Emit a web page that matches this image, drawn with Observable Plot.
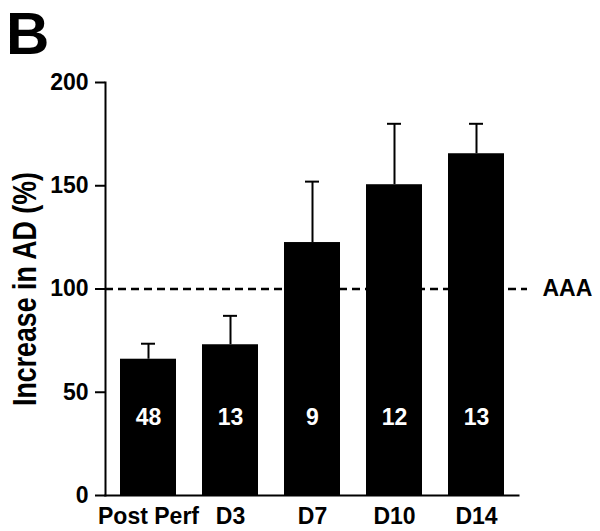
<!DOCTYPE html>
<html>
<head>
<meta charset="utf-8">
<script src="https://cdn.jsdelivr.net/npm/d3@7"></script>
<script src="https://cdn.jsdelivr.net/npm/@observablehq/plot@0.6"></script>
<style>
  html, body { margin: 0; padding: 0; background: #fff; }
  #panel { font-family: "Liberation Sans", Arial, sans-serif; font-weight: bold; font-size: 60px; line-height: 68px; height: 60px; padding-left: 6px; color: #000; overflow: visible; position: relative; z-index: 1; }
  #chart svg { display: block; }
</style>
</head>
<body>
<div id="panel"></div>
<div id="chart"></div>
<script>
const panelLabel = "B";
const categories = ["Post Perf", "D3", "D7", "D10", "D14"];
const means = [66, 73, 122.5, 150.5, 165.5];
const sems = [7.5, 14, 29.5, 29.5, 14.5];
const counts = [48, 13, 9, 12, 13];
const yTicks = [0, 50, 100, 150, 200];
const yDomain = [0, 200];
const refValue = 100;
const refLabel = "AAA";
const yLabel = "Increase in AD (%)";

const data = categories.map((c, i) => ({cat: c, mean: means[i], upper: means[i] + sems[i], n: String(counts[i])}));

document.getElementById("panel").textContent = panelLabel;

const chart = Plot.plot({
  width: 600,
  height: 471,
  marginLeft: 105,
  marginRight: 82,
  marginTop: 22,
  marginBottom: 36,
  style: {fontFamily: "'Liberation Sans', Arial, sans-serif", fontWeight: "bold", color: "#000", background: "#fff"},
  x: {domain: categories, paddingInner: 0.32, paddingOuter: 0.17, axis: null},
  y: {domain: yDomain, axis: null},
  marks: [
    Plot.ruleY([refValue], {stroke: "#000", strokeWidth: 2.5, strokeDasharray: "8,5", insetRight: -9}),
    Plot.barY(data, {x: "cat", y: "mean", fill: "#000"}),
    Plot.ruleX(data, {x: "cat", y1: "mean", y2: "upper", stroke: "#000", strokeWidth: 2}),
    Plot.tickY(data, {x: "cat", y: "upper", stroke: "#000", strokeWidth: 2, insetLeft: 21, insetRight: 21}),
    Plot.text(data, {x: "cat", text: "n", frameAnchor: "bottom", dy: -71, fill: "#fff", fontSize: 23, fontWeight: "bold"}),
    Plot.axisY({ticks: yTicks, tickSize: 10, tickPadding: 7, strokeWidth: 2, fontSize: 23, label: null}),
    Plot.axisX({tickSize: 0, tickPadding: 12, fontSize: 23, label: null}),
    Plot.frame({anchor: "left", stroke: "#000", strokeWidth: 2}),
    Plot.frame({anchor: "bottom", stroke: "#000", strokeWidth: 2}),
    Plot.text([{label: refLabel, value: refValue}], {y: "value", text: "label", frameAnchor: "right", textAnchor: "start", dx: 24, fontSize: 23, fontWeight: "bold"}),
    Plot.text([yLabel], {text: d => d, frameAnchor: "left", textAnchor: "middle", lineAnchor: "middle", rotate: -90, dx: -80, fontSize: 34, fontWeight: "bold", className: "ylab"})
  ]
});
// the reference's axis title is compressed along its length: fit it to that length
chart.querySelectorAll(".ylab text").forEach(t => {
  t.setAttribute("textLength", "234");
  t.setAttribute("lengthAdjust", "spacingAndGlyphs");
});
document.getElementById("chart").appendChild(chart);
</script>
</body>
</html>
